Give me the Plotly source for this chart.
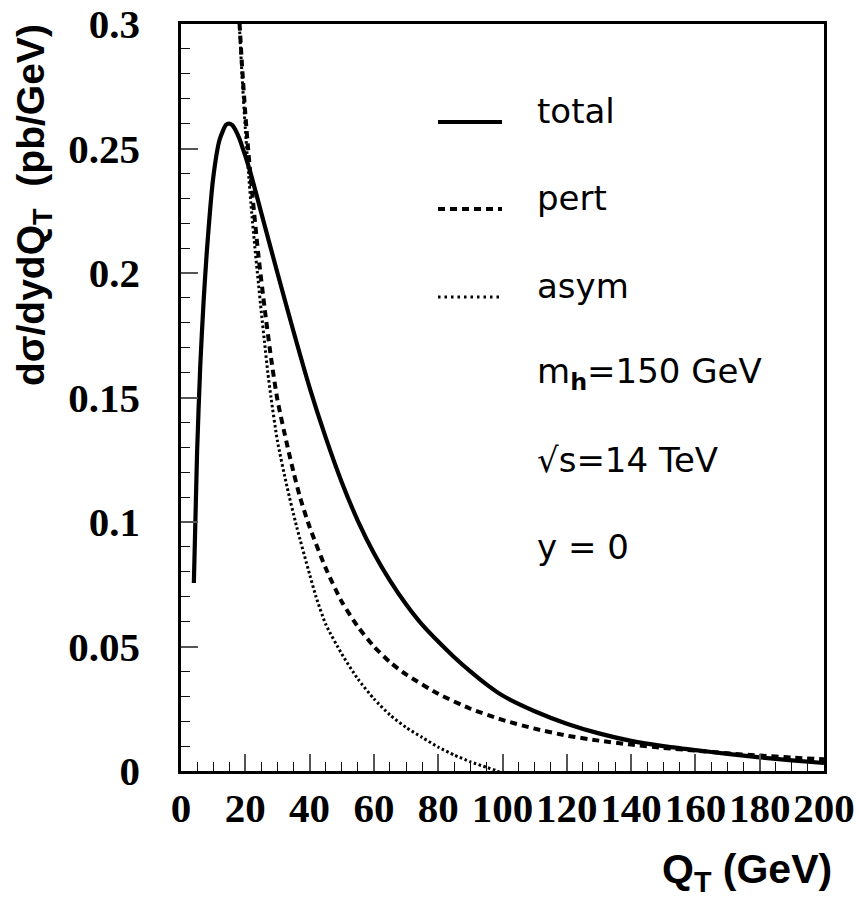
import plotly.graph_objects as go

# ---- data ----
qt_total = [4, 5, 6, 7, 8, 10, 12, 14, 15, 16, 18, 20, 22, 25, 30, 35, 40, 45, 50,
            55, 60, 65, 70, 75, 80, 85, 90, 95, 100, 110, 120, 130, 140, 150,
            160, 170, 180, 190, 200]
total = [0.0755, 0.128, 0.163, 0.188, 0.208, 0.238, 0.2535, 0.2595, 0.260, 0.2593,
         0.2545, 0.247, 0.2385, 0.224, 0.200, 0.1765, 0.154, 0.134, 0.116,
         0.1005, 0.0875, 0.0765, 0.0670, 0.0588, 0.0520, 0.0457, 0.0400, 0.0348,
         0.0303, 0.0240, 0.0190, 0.0151, 0.0121, 0.0100, 0.0084, 0.0069,
         0.0055, 0.0043, 0.0032]

qt_pert = [18, 19, 20, 21, 22, 24, 26, 28, 30, 33, 35, 37, 40, 45, 50, 55, 60, 65,
           70, 80, 90, 100, 110, 120, 130, 140, 150, 160, 170, 180, 190, 200]
pert = [0.305, 0.283, 0.264, 0.248, 0.234, 0.208, 0.186, 0.166, 0.149, 0.131,
        0.120, 0.110, 0.098, 0.0815, 0.068, 0.0580, 0.0500, 0.0437, 0.0388,
        0.031, 0.0250, 0.0205, 0.0170, 0.0142, 0.0122, 0.0106, 0.0093, 0.0082,
        0.0071, 0.0062, 0.0054, 0.0047]

qt_asym = [18, 19, 20, 21, 22, 23, 24, 25, 26, 27, 28, 30, 33, 36, 40, 42, 45, 50,
           55, 60, 65, 70, 75, 80, 85, 90, 95, 98, 100]
asym = [0.303, 0.279, 0.258, 0.240, 0.224, 0.210, 0.197, 0.184, 0.172, 0.160,
        0.150, 0.1325, 0.114, 0.098, 0.079, 0.070, 0.059, 0.047, 0.037, 0.029,
        0.0225, 0.0175, 0.0135, 0.0096, 0.0064, 0.0037, 0.0015, 0.0002, -0.001]

x_ticks = [0, 20, 40, 60, 80, 100, 120, 140, 160, 180, 200]
x_ticklabels = ["0", "20", "40", "60", "80", "100", "120", "140", "160", "180", "200"]
y_ticks = [0, 0.05, 0.1, 0.15, 0.2, 0.25, 0.3]
y_ticklabels = ["0", "0.05", "0.1", "0.15", "0.2", "0.25", "0.3"]

legend_names = ["total", "pert", "asym"]
info_lines = ["m<sub><b>h</b></sub>=150 GeV", "\u221as=14 TeV", "y = 0"]

# ---- layout geometry (pixels) ----
W, H = 858, 901
L, R, T, B = 181, 34, 24, 130
PW, PH = W - L - R, H - T - B


def px(xp):
    return (xp - L) / PW


def py(yp):
    return (H - B - yp) / PH


fig = go.Figure()
fig.add_trace(go.Scatter(x=qt_total, y=total, mode="lines", name="total",
                         line=dict(color="black", width=4.2, shape="spline",
                                   smoothing=0.6),
                         showlegend=False))
fig.add_trace(go.Scatter(x=qt_pert, y=pert, mode="lines", name="pert",
                         line=dict(color="black", width=4, dash="7px,5px",
                                   shape="spline", smoothing=0.6),
                         showlegend=False))
fig.add_trace(go.Scatter(x=qt_asym, y=asym, mode="lines", name="asym",
                         line=dict(color="black", width=3, dash="2.5px,2.5px",
                                   shape="spline", smoothing=0.6),
                         showlegend=False))

txt_font = dict(family="DejaVu Sans", size=34, color="black")

# legend samples + labels
leg_styles = [dict(width=4.2, dash="solid"), dict(width=4, dash="7px,5px"),
              dict(width=3, dash="2.5px,4px")]
baselines = [124, 211, 299]
for name, st, yb in zip(legend_names, leg_styles, baselines):
    fig.add_shape(type="line", xref="paper", yref="paper",
                  x0=px(438), x1=px(502), y0=py(yb - 2), y1=py(yb - 2),
                  line=dict(color="black", width=st["width"], dash=st["dash"]))
    fig.add_annotation(text=name, xref="paper", yref="paper", x=px(535),
                       y=py(yb - 13), xanchor="left", yanchor="middle",
                       showarrow=False, font=txt_font)

for i, t in enumerate(info_lines):
    yb = 386 + 87 * i
    fig.add_annotation(text=t, xref="paper", yref="paper", x=px(535),
                       y=py(yb - 13), xanchor="left", yanchor="middle",
                       showarrow=False, font=txt_font)

# axis titles
title_font = dict(family="Liberation Sans", size=39, color="black", weight="bold")
fig.add_annotation(text="d\u03c3/dydQ<sub>T</sub> \u00a0(pb/GeV)", xref="paper",
                   yref="paper", x=px(33), y=py(205), xanchor="center",
                   yanchor="middle", textangle=-90, showarrow=False,
                   font=title_font)
fig.add_annotation(text="Q<sub>T</sub> (GeV)", xref="paper", yref="paper",
                   x=px(834), y=py(872), xanchor="right", yanchor="middle",
                   showarrow=False,
                   font=dict(family="Liberation Sans", size=41, color="black",
                             weight="bold"))

tick_font = dict(family="Liberation Serif", size=41, color="black", weight="bold")

fig.update_xaxes(range=[0, 200], tickvals=x_ticks, ticktext=x_ticklabels,
                 tickangle=0, automargin=False,
                 ticks="inside", ticklen=17, tickwidth=1.5, tickcolor="#555",
                 minor=dict(dtick=5, ticks="inside", ticklen=9, tickwidth=1.2,
                            tickcolor="#111", showgrid=False),
                 showline=True, linecolor="black", linewidth=2.5, mirror=True,
                 showgrid=False, zeroline=False, tickfont=tick_font,
                 ticklabelstandoff=-1)
fig.update_yaxes(range=[0, 0.3], tickvals=y_ticks, ticktext=y_ticklabels,
                 automargin=False,
                 ticks="inside", ticklen=17, tickwidth=1.5, tickcolor="#555",
                 minor=dict(dtick=0.01, ticks="inside", ticklen=9, tickwidth=1.2,
                            tickcolor="#111", showgrid=False),
                 showline=True, linecolor="black", linewidth=2.5, mirror=True,
                 showgrid=False, zeroline=False, tickfont=tick_font,
                 ticklabelstandoff=30)

fig.update_layout(width=W, height=H, margin=dict(l=L, r=R, t=T, b=B),
                  paper_bgcolor="white", plot_bgcolor="white", showlegend=False)

fig.write_html("out.html")
